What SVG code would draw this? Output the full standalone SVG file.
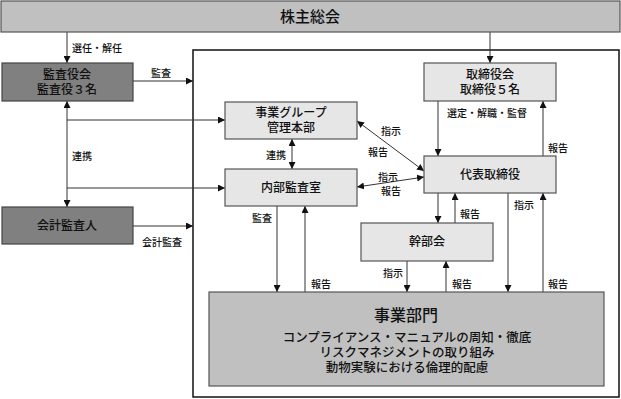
<svg xmlns="http://www.w3.org/2000/svg" width="621" height="399" viewBox="0 0 621 399">
<style>
text{font-family:"Noto Sans CJK JP","Noto Sans CJK SC",sans-serif;fill:#111;text-anchor:middle;font-weight:500}
.lbl{font-size:10px;text-anchor:start;dominant-baseline:central}
.nd{font-size:12px}
.light{fill:#e6e6e6;stroke:#555;stroke-width:1.2}
.dark{fill:#808080;stroke:#444;stroke-width:1.2}
.mid{fill:#c0c0c0;stroke:#555;stroke-width:1.2}
.c{stroke:#333;stroke-width:1;fill:none}
</style>
<defs>
<marker id="ah" viewBox="0 0 10 10" refX="10" refY="5" markerWidth="7" markerHeight="7" orient="auto-start-reverse" markerUnits="userSpaceOnUse"><path d="M0,0L10,5L0,10z" fill="#111"/></marker>
</defs>
<rect x="0" y="0" width="621" height="399" fill="#fff"/>
<rect id="frame" x="193" y="50" width="426" height="347" fill="#fff" stroke="#111" stroke-width="1.5"/>
<g id="connectors">
<line class="c" x1="67" y1="32" x2="67" y2="63" marker-end="url(#ah)"/>
<line class="c" x1="490" y1="32" x2="490" y2="63" marker-end="url(#ah)"/>
<line class="c" x1="133" y1="81" x2="193" y2="81" marker-end="url(#ah)"/>
<line class="c" x1="133" y1="226" x2="193" y2="226" marker-end="url(#ah)"/>
<line class="c" x1="67" y1="101" x2="67" y2="207" marker-start="url(#ah)" marker-end="url(#ah)"/>
<line class="c" x1="67" y1="120" x2="225" y2="120" marker-end="url(#ah)"/>
<line class="c" x1="67" y1="188" x2="225" y2="188" marker-end="url(#ah)"/>
<line class="c" x1="292" y1="139" x2="292" y2="169" marker-start="url(#ah)" marker-end="url(#ah)"/>
<line class="c" x1="438" y1="101" x2="438" y2="156" marker-end="url(#ah)"/>
<line class="c" x1="543" y1="156" x2="543" y2="101" marker-end="url(#ah)"/>
<line class="c" x1="357" y1="121" x2="424" y2="171" marker-start="url(#ah)" marker-end="url(#ah)"/>
<line class="c" x1="357" y1="187" x2="424" y2="177" marker-start="url(#ah)" marker-end="url(#ah)"/>
<line class="c" x1="438" y1="193" x2="438" y2="223" marker-end="url(#ah)"/>
<line class="c" x1="455" y1="223" x2="455" y2="193" marker-end="url(#ah)"/>
<line class="c" x1="508" y1="193" x2="508" y2="292" marker-end="url(#ah)"/>
<line class="c" x1="543" y1="292" x2="543" y2="193" marker-end="url(#ah)"/>
<line class="c" x1="277" y1="206" x2="277" y2="292" marker-end="url(#ah)"/>
<line class="c" x1="305" y1="292" x2="305" y2="206" marker-end="url(#ah)"/>
<line class="c" x1="407" y1="261" x2="407" y2="292" marker-end="url(#ah)"/>
<line class="c" x1="446" y1="292" x2="446" y2="261" marker-end="url(#ah)"/>
</g>
<g id="labels">
<text class="lbl" x="72" y="47">選任・解任</text>
<text class="lbl" x="151" y="72">監査</text>
<text class="lbl" x="142" y="241">会計監査</text>
<text class="lbl" x="72" y="155">連携</text>
<text class="lbl" x="266" y="154">連携</text>
<text class="lbl" x="447" y="112">選定・解職・監督</text>
<text class="lbl" x="548" y="147">報告</text>
<text class="lbl" x="381" y="130">指示</text>
<text class="lbl" x="368" y="151">報告</text>
<text class="lbl" x="378" y="176">指示</text>
<text class="lbl" x="381" y="190">報告</text>
<text class="lbl" x="460" y="213">報告</text>
<text class="lbl" x="514" y="204">指示</text>
<text class="lbl" x="252" y="217">監査</text>
<text class="lbl" x="311" y="283">報告</text>
<text class="lbl" x="383" y="272">指示</text>
<text class="lbl" x="452" y="283">報告</text>
<text class="lbl" x="548" y="283">報告</text>
</g>
<g id="n-shareholders"><rect class="mid" x="1" y="1" width="619" height="31"/><text x="310" y="22" style="font-size:15px">株主総会</text></g>
<g id="n-auditboard"><rect class="dark" x="2" y="63" width="131" height="38"/><text class="nd" x="67" y="79">監査役会<tspan x="67" dy="15">監査役３名</tspan></text></g>
<g id="n-accountant"><rect class="dark" x="2" y="207" width="131" height="37"/><text class="nd" x="67" y="230">会計監査人</text></g>
<g id="n-group"><rect class="light" x="225" y="102" width="132" height="37"/><text class="nd" x="291" y="117">事業グループ<tspan x="291" dy="15">管理本部</tspan></text></g>
<g id="n-internal"><rect class="light" x="225" y="169" width="132" height="37"/><text class="nd" x="291" y="192">内部監査室</text></g>
<g id="n-board"><rect class="light" x="424" y="63" width="132" height="38"/><text class="nd" x="490" y="79">取締役会<tspan x="490" dy="15">取締役５名</tspan></text></g>
<g id="n-ceo"><rect class="light" x="424" y="156" width="132" height="37"/><text class="nd" x="490" y="179">代表取締役</text></g>
<g id="n-exec"><rect class="light" x="361" y="223" width="132" height="38"/><text class="nd" x="427" y="246">幹部会</text></g>
<g id="n-biz"><rect class="mid" x="209" y="292" width="395" height="94"/><text x="406" y="321" style="font-size:16px">事業部門</text><text x="407" y="342" style="font-size:12.5px">コンプライアンス・マニュアルの周知・徹底<tspan x="407" dy="15">リスクマネジメントの取り組み</tspan><tspan x="407" dy="15">動物実験における倫理的配慮</tspan></text></g>
</svg>
